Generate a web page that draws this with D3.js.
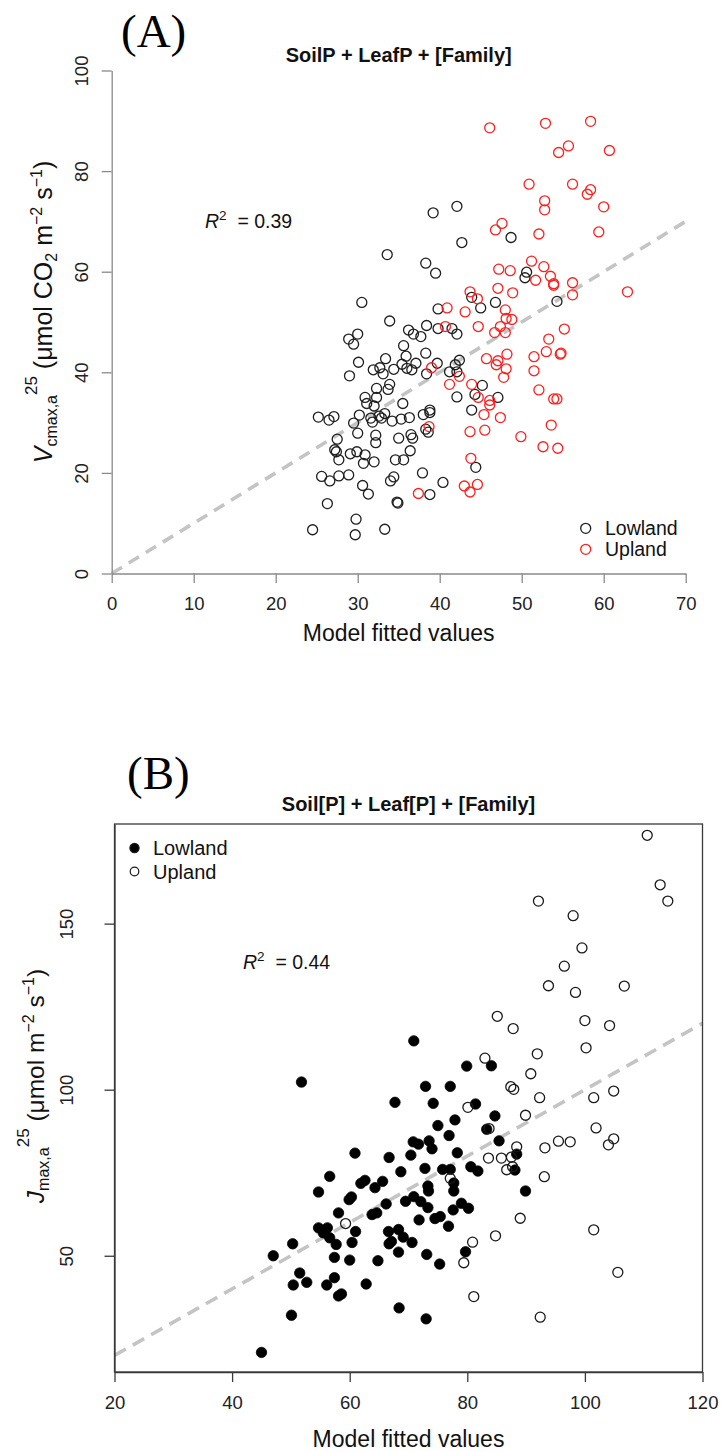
<!DOCTYPE html>
<html>
<head>
<meta charset="utf-8">
<script src="https://cdn.jsdelivr.net/npm/d3@7"></script>
<style>
  body { margin: 0; background: #fff; }
  svg text { font-family: "Liberation Sans", Arial, sans-serif; white-space: pre; }
  svg text.panel-tag { font-family: "Liberation Serif", "Times New Roman", serif; }
</style>
</head>
<body>
<svg id="fig" width="722" height="1452"></svg>
<script>
// ---------- Panel A: Vcmax,a (observed) vs model fitted values ----------
const vcmaxLowlandFitted = [39.2,42.1,42.7,48.7,33.6,38.3,39.5,50.6,50.4,43.9,45.0,46.8,54.3,39.8,33.9,38.4,39.8,41.5,36.2,36.8,37.7,42.1,35.6,33.4,35.9,38.3,35.4,37.1,34.4,36.0,36.6,39.7,38.4,41.2,41.9,42.4,42.1,33.9,33.7,42.1,44.3,45.2,47.1,43.9,35.5,33.3,34.2,35.3,36.3,38.0,38.8,38.8,38.3,38.6,35.0,36.5,36.7,36.4,34.6,35.6,44.4,37.9,34.4,34.0,40.4,38.8,34.8,34.9,33.3,30.5,28.9,30.0,29.5,30.1,29.0,31.9,32.7,33.1,32.3,32.3,30.9,31.1,32.0,30.2,29.5,31.6,31.8,32.6,32.9,25.2,26.5,27.1,27.5,32.2,32.2,30.0,27.2,27.4,27.7,29.1,29.9,30.9,30.7,32.0,25.6,26.6,27.7,28.9,30.6,31.3,26.3,29.8,24.5,29.7];
const vcmaxLowlandObserved = [71.7,73.0,65.8,66.8,63.4,61.7,59.7,59.9,58.8,54.9,52.8,53.9,54.1,52.6,50.2,49.3,48.7,48.7,48.4,47.6,47.1,47.6,45.3,42.7,43.2,43.8,41.6,41.8,40.6,40.8,40.5,41.8,39.7,40.1,41.5,42.4,40.1,37.6,36.6,35.1,35.6,37.4,35.0,32.5,33.8,31.8,30.3,30.7,31.0,31.6,32.5,32.0,28.7,28.1,26.9,27.6,26.9,24.4,22.6,22.6,21.1,20.0,19.2,18.4,18.1,15.7,14.2,14.0,8.8,53.9,46.6,47.6,45.6,42.0,39.3,40.5,40.9,39.7,36.8,35.0,35.0,33.8,33.3,31.5,29.9,30.9,30.1,31.3,30.9,31.1,30.5,31.2,26.7,27.5,26.0,27.9,24.6,24.2,22.6,23.8,24.2,23.6,21.9,22.2,19.3,18.4,19.4,19.6,17.5,15.8,13.9,10.8,8.7,7.7];
const vcmaxUplandFitted = [46.1,52.9,58.4,55.7,54.5,60.7,50.9,56.2,58.4,58.0,52.8,52.8,60.0,47.6,46.8,52.1,59.4,51.2,47.2,48.6,52.7,53.5,51.7,53.9,53.9,56.2,56.2,62.9,47.1,48.9,43.7,44.6,40.9,43.1,48.0,48.1,48.8,44.7,40.7,47.4,46.7,48.0,55.2,53.3,53.0,54.8,54.7,51.5,48.2,45.7,47.1,46.9,48.1,51.5,47.8,39.0,42.4,41.2,43.9,52.1,53.9,54.3,44.7,46.1,46.1,45.4,47.4,38.7,43.7,45.5,53.6,49.9,52.6,54.4,43.8,43.0,44.6,43.7,37.4];
const vcmaxUplandObserved = [88.6,89.5,89.9,85.0,83.7,84.1,77.4,77.4,76.3,75.4,74.1,72.3,72.9,69.6,68.3,67.5,67.9,62.1,60.5,60.2,61.0,59.1,58.3,57.6,57.3,57.8,55.4,56.0,56.7,55.8,56.0,54.6,52.8,52.0,52.4,50.7,50.5,49.1,49.1,49.1,47.9,47.9,48.6,46.6,44.1,43.8,43.6,43.1,43.6,42.7,42.3,41.5,40.7,40.3,39.0,40.9,39.2,37.6,37.6,36.5,34.7,34.7,35.0,34.4,33.5,31.6,31.0,29.2,28.2,28.5,29.5,27.2,25.2,24.9,22.9,17.4,17.7,16.2,15.9];
const vcmaxXTicks = [0, 10, 20, 30, 40, 50, 60, 70];
const vcmaxYTicks = [0, 20, 40, 60, 80, 100];
const vcmaxR2 = "0.39";

// ---------- Panel B: Jmax,a (observed) vs model fitted values ----------
const jmaxLowlandFitted = [51.8,67.7,60.9,66.7,68.7,56.6,54.7,61.9,62.6,64.3,65.6,59.9,60.3,66.2,69.5,58.1,63.8,64.6,54.7,56.2,55.5,56.6,57.7,61.0,60.4,66.6,68.3,69.1,67.1,66.7,68.3,50.3,47.0,57.4,60.0,64.8,51.5,50.4,52.7,56.1,57.4,62.8,58.1,58.6,68.4,50.1,45.0,70.9,79.9,84.1,72.9,77.1,74.2,81.4,84.7,75.0,77.9,76.9,83.3,85.4,70.8,71.7,73.5,74.0,70.4,78.3,88.4,72.8,75.8,77.1,80.6,81.8,88.1,73.3,73.4,77.7,77.7,70.9,72.1,73.3,79.0,80.2,77.6,71.8,74.5,75.4,76.8,89.9,70.6,79.7,73.1,75.3,73.0];
const jmaxLowlandObserved = [102.3,96.2,80.9,79.6,75.3,73.9,69.2,71.8,72.7,70.5,72.4,66.9,67.7,65.6,66.4,62.9,62.4,62.9,58.4,58.4,56.9,55.4,53.4,57.3,54.0,57.3,57.9,55.6,54.3,53.6,51.1,53.6,50.0,49.5,48.7,48.5,44.8,41.2,42.0,41.2,43.4,41.5,37.9,38.5,34.3,32.1,20.9,114.7,107.1,107.2,101.0,101.0,95.9,95.7,92.1,89.2,90.9,86.2,88.1,84.6,84.3,83.6,84.6,82.2,80.3,81.0,80.6,76.3,76.0,76.0,76.8,75.5,75.8,71.0,69.5,71.9,69.5,67.8,66.3,64.5,65.8,64.3,63.8,60.8,61.2,61.8,58.9,69.5,54.0,51.2,50.4,47.5,31.0];
const jmaxUplandFitted = [110.6,112.8,114.1,92.1,98.0,99.5,96.5,93.8,98.4,106.7,85.1,87.8,100.0,104.2,100.2,83.0,91.9,90.8,87.4,87.9,92.3,101.5,104.9,80.1,89.9,101.9,83.7,88.4,93.2,95.5,97.5,104.0,104.9,83.6,85.8,87.5,87.7,86.7,93.1,77.1,89.0,101.5,84.8,80.9,79.4,105.6,81.1,59.3,92.4];
const jmaxUplandObserved = [176.6,161.7,156.8,156.8,152.4,142.7,137.2,131.3,129.3,131.2,122.1,118.4,120.8,119.3,112.6,109.5,110.8,104.8,100.9,100.1,97.6,97.6,99.6,94.7,92.3,88.5,88.3,82.8,82.5,84.5,84.3,83.4,85.2,79.4,79.4,79.7,76.8,75.9,73.8,73.3,61.3,57.8,56.0,54.1,47.9,45.0,37.7,59.7,31.5];
const jmaxXTicks = [20, 40, 60, 80, 100, 120];
const jmaxYTicks = [50, 100, 150];
const jmaxR2 = "0.44";

const groups = ["Lowland", "Upland"];

// ---------------------------------------------------------------------
const svg = d3.select("#fig");
svg.append("rect").attr("width", 722).attr("height", 1452).attr("fill", "#fff");

const pairs = (xs, ys) => xs.map((x, i) => [x, ys[i]]);

// rich text with sub/superscripts built from tspans
function richText(sel, parts, size) {
  parts.forEach(p => {
    const t = sel.append("tspan").text(p.t);
    if (p.dy) t.attr("dy", p.dy);
    t.attr("font-size", p.s || size);
    if (p.i) t.attr("font-style", "italic");
  });
  return sel;
}

function styleAxis(g, color, labelColor, fontSize) {
  g.select(".domain").attr("stroke", color).attr("stroke-width", 1.3);
  g.selectAll(".tick line").attr("stroke", color).attr("stroke-width", 1.3);
  g.selectAll(".tick text").attr("fill", labelColor).attr("font-size", fontSize)
    .style("font-family", "'Liberation Sans', Arial, sans-serif");
}

// ===================== Panel A =====================
{
  const xA = d3.scaleLinear().domain([0, 70]).range([111.7, 685.7]);
  const yA = d3.scaleLinear().domain([0, 100]).range([573.5, 70.5]);
  const g = svg.append("g");

  // 1:1 reference line
  const line = d3.line().x(d => xA(d)).y(d => yA(d));
  g.append("path").attr("d", line([0, 70]))
    .attr("fill", "none").attr("stroke", "#c4c4c4").attr("stroke-width", 3.6)
    .attr("stroke-dasharray", "12,8");

  // axes (open style: left and bottom only)
  const ax = g.append("g").attr("transform", `translate(0,${yA(0)})`)
    .call(d3.axisBottom(xA).tickValues(vcmaxXTicks).tickSize(9.5).tickSizeOuter(0).tickFormat(d3.format("d")));
  styleAxis(ax, "#8a8a8a", "#222", 18.5);
  ax.selectAll(".tick text").attr("y", 0).attr("dy", 0).attr("transform", "translate(0,36)");

  const ay = g.append("g").attr("transform", `translate(${xA(0)},0)`)
    .call(d3.axisLeft(yA).tickValues(vcmaxYTicks).tickSize(10).tickSizeOuter(0).tickFormat(d3.format("d")));
  styleAxis(ay, "#8a8a8a", "#222", 18.5);
  ay.selectAll(".tick text").attr("x", 0).attr("dy", 0).attr("y", -24)
    .attr("text-anchor", "middle").attr("transform", "rotate(-90)");

  // points
  const lowA = pairs(vcmaxLowlandFitted, vcmaxLowlandObserved);
  const upA = pairs(vcmaxUplandFitted, vcmaxUplandObserved);
  g.append("g").selectAll("circle").data(lowA).join("circle")
    .attr("cx", d => xA(d[0])).attr("cy", d => yA(d[1])).attr("r", 5)
    .attr("fill", "none").attr("stroke", "#1e1e1e").attr("stroke-width", 1.3);
  g.append("g").selectAll("circle").data(upA).join("circle")
    .attr("cx", d => xA(d[0])).attr("cy", d => yA(d[1])).attr("r", 5)
    .attr("fill", "none").attr("stroke", "#ff1f1f").attr("stroke-width", 1.3);

  // legend
  const colA = ["#1e1e1e", "#ff1f1f"];
  groups.forEach((name, i) => {
    const yy = 528.3 + i * 21;
    g.append("circle").attr("cx", 585.7).attr("cy", yy).attr("r", 5)
      .attr("fill", "none").attr("stroke", colA[i]).attr("stroke-width", 1.3);
    g.append("text").attr("x", 605).attr("y", yy + 7).attr("font-size", 19.5).attr("fill", "#111").text(name);
  });

  // R squared
  richText(g.append("text").attr("x", 205).attr("y", 228).attr("fill", "#111"), [
    { t: "R", i: true },
    { t: "2", s: 13.5, dy: -8 },
    { t: "  = " + vcmaxR2, dy: 8 }
  ], 19.5);

  // titles
  g.append("text").attr("x", xA(35)).attr("y", 62).attr("text-anchor", "middle")
    .attr("font-weight", "bold").attr("font-size", 20).attr("fill", "#111")
    .text("SoilP + LeafP + [Family]");
  g.append("text").attr("x", xA(35)).attr("y", 641).attr("text-anchor", "middle")
    .attr("font-size", 23).attr("fill", "#111").text("Model fitted values");

  const yt = g.append("text").attr("text-anchor", "middle").attr("fill", "#111")
    .attr("transform", `translate(52,${(yA(0) + yA(100)) / 2 - 10}) rotate(-90)`);
  richText(yt, [
    { t: "V", i: true },
    { t: "cmax,a", s: 16, dy: 5 },
    { t: "25", s: 17, dy: -20 },
    { t: " (μmol CO", dy: 15 },
    { t: "2", s: 16, dy: 5 },
    { t: " m", dy: -5 },
    { t: "−2", s: 16, dy: -10 },
    { t: " s", dy: 10 },
    { t: "−1", s: 16, dy: -10 },
    { t: ")", dy: 10 }
  ], 25);

  svg.append("text").attr("class", "panel-tag").attr("x", 121).attr("y", 47)
    .attr("font-size", 47).attr("fill", "#000").text("(A)");
}

// ===================== Panel B =====================
{
  const xB = d3.scaleLinear().domain([20, 120]).range([114.5, 702.5]);
  const yB = d3.scaleLinear().domain([15, 180]).range([1372, 824]);
  const g = svg.append("g");

  const line = d3.line().x(d => xB(d)).y(d => yB(d));
  g.append("path").attr("d", line([20, 120]))
    .attr("fill", "none").attr("stroke", "#c4c4c4").attr("stroke-width", 3.6)
    .attr("stroke-dasharray", "13,8");

  const ax = g.append("g").attr("transform", `translate(0,${yB.range()[0]})`)
    .call(d3.axisBottom(xB).tickValues(jmaxXTicks).tickSize(10).tickSizeOuter(0).tickFormat(d3.format("d")));
  styleAxis(ax, "#3a3a3a", "#222", 18.5);
  ax.selectAll(".tick text").attr("y", 0).attr("dy", 0).attr("transform", "translate(0,37)");

  const ay = g.append("g").attr("transform", `translate(${xB.range()[0]},0)`)
    .call(d3.axisLeft(yB).tickValues(jmaxYTicks).tickSize(10).tickSizeOuter(0).tickFormat(d3.format("d")));
  styleAxis(ay, "#3a3a3a", "#222", 18.5);
  ay.selectAll(".tick text").attr("x", 0).attr("dy", 0).attr("y", -42)
    .attr("text-anchor", "middle").attr("transform", "rotate(-90)");

  // plot frame
  g.append("rect").attr("x", xB.range()[0]).attr("y", yB.range()[1])
    .attr("width", xB.range()[1] - xB.range()[0]).attr("height", yB.range()[0] - yB.range()[1])
    .attr("fill", "none").attr("stroke", "#3a3a3a").attr("stroke-width", 1.3);

  const lowB = pairs(jmaxLowlandFitted, jmaxLowlandObserved);
  const upB = pairs(jmaxUplandFitted, jmaxUplandObserved);
  g.append("g").selectAll("circle").data(lowB).join("circle")
    .attr("cx", d => xB(d[0])).attr("cy", d => yB(d[1])).attr("r", 5.2)
    .attr("fill", "#000").attr("stroke", "#000").attr("stroke-width", 0.8);
  g.append("g").selectAll("circle").data(upB).join("circle")
    .attr("cx", d => xB(d[0])).attr("cy", d => yB(d[1])).attr("r", 5)
    .attr("fill", "none").attr("stroke", "#1a1a1a").attr("stroke-width", 1.3);

  // legend
  groups.forEach((name, i) => {
    const yy = 848 + i * 23.5;
    g.append("circle").attr("cx", 134.5).attr("cy", yy).attr("r", i === 0 ? 4.6 : 4.3)
      .attr("fill", i === 0 ? "#000" : "none").attr("stroke", "#1a1a1a").attr("stroke-width", 1.2);
    g.append("text").attr("x", 153).attr("y", yy + 7).attr("font-size", 20).attr("fill", "#111").text(name);
  });

  richText(g.append("text").attr("x", 243).attr("y", 969).attr("fill", "#111"), [
    { t: "R", i: true },
    { t: "2", s: 13.5, dy: -8 },
    { t: "  = " + jmaxR2, dy: 8 }
  ], 19.5);

  g.append("text").attr("x", (xB.range()[0] + xB.range()[1]) / 2).attr("y", 811).attr("text-anchor", "middle")
    .attr("font-weight", "bold").attr("font-size", 20).attr("fill", "#111")
    .text("Soil[P] + Leaf[P] + [Family]");
  g.append("text").attr("x", (xB.range()[0] + xB.range()[1]) / 2).attr("y", 1447).attr("text-anchor", "middle")
    .attr("font-size", 23).attr("fill", "#111").text("Model fitted values");

  const yt = g.append("text").attr("text-anchor", "middle").attr("fill", "#111")
    .attr("transform", `translate(44,${(yB.range()[0] + yB.range()[1]) / 2 - 12}) rotate(-90)`);
  richText(yt, [
    { t: "J", i: true },
    { t: "max,a", s: 16, dy: 5 },
    { t: "25", s: 17, dy: -20 },
    { t: " (μmol m", dy: 15 },
    { t: "−2", s: 16, dy: -10 },
    { t: " s", dy: 10 },
    { t: "−1", s: 16, dy: -10 },
    { t: ")", dy: 10 }
  ], 24.5);

  svg.append("text").attr("class", "panel-tag").attr("x", 127).attr("y", 789)
    .attr("font-size", 47).attr("fill", "#000").text("(B)");
}
</script>
</body>
</html>
